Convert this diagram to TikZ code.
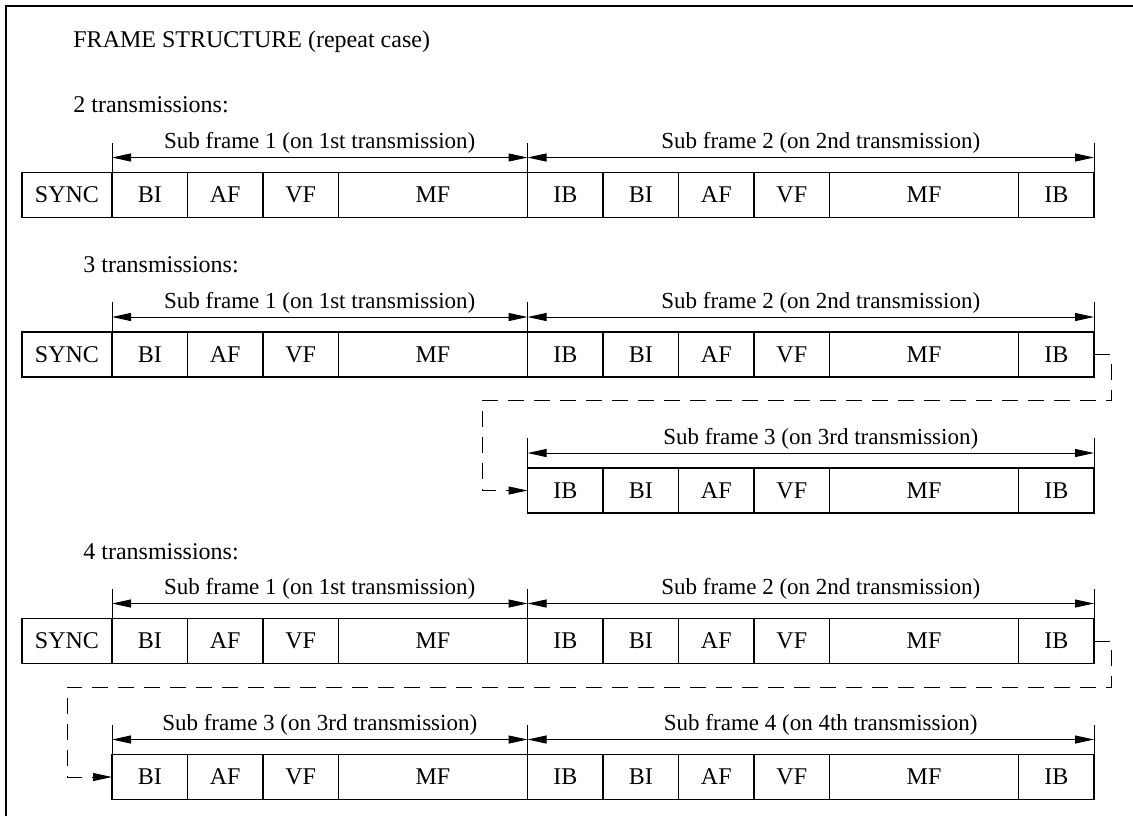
\documentclass[tikz,border=0pt]{standalone}
\usepackage{fontspec}
\setmainfont{Liberation Serif}
\usetikzlibrary{arrows.meta,positioning}

\begin{document}
\begin{tikzpicture}[
  x=0.5pt, y=-0.5pt,
  font=\fontsize{12}{14}\selectfont,
  >={Triangle[length=9.5pt,width=4pt]},
  cell/.style={draw,line width=0.8pt,minimum width=37.75pt,minimum height=22.5pt,inner sep=0pt,outer sep=0pt},
  widecell/.style={cell,minimum width=94.5pt},
  synccell/.style={cell,minimum width=45pt},
  dimline/.style={line width=0.5pt},
  dimarrow/.style={<->,line width=0.5pt},
  sublabel/.style={anchor=base,yshift=4.5pt,font=\fontsize{11.5}{14}\selectfont},
  rowtitle/.style={anchor=base west,inner sep=0pt},
  backlink/.style={->,dash pattern=on 8pt off 5pt,line width=0.5pt}
]
\useasboundingbox (0,0) rectangle (1133,816);
\draw[line width=1pt] (6,816) -- (6,6) -- (1133,6);

\node[rowtitle] (title) at (73,47) {FRAME STRUCTURE (repeat case)};
\node[rowtitle] (two) at (73,112) {2 transmissions:};
\node[rowtitle] (three) at (83,272) {3 transmissions:};
\node[rowtitle] (four) at (83,559) {4 transmissions:};

% full rows with SYNC
\foreach \r/\y in {a/195,b/354.5,d/641}{
  \coordinate (\r0) at (22,\y);
  \foreach \txt/\kind [count=\k] in {SYNC/synccell,BI/cell,AF/cell,VF/cell,MF/widecell,IB/cell,BI/cell,AF/cell,VF/cell,MF/widecell,IB/cell}{
    \pgfmathtruncatemacro\prev{\k-1}
    \node[\kind,right=0pt of \r\prev] (\r\k) {\txt};
  }
}
% sub frame 3, three transmissions
\coordinate (c0) at (527.5,490.5);
\foreach \txt/\kind [count=\k] in {IB/cell,BI/cell,AF/cell,VF/cell,MF/widecell,IB/cell}{
  \pgfmathtruncatemacro\prev{\k-1}
  \node[\kind,right=0pt of c\prev] (c\k) {\txt};
}
% sub frames 3 and 4, four transmissions
\coordinate (e0) at (112,777);
\foreach \txt/\kind [count=\k] in {BI/cell,AF/cell,VF/cell,MF/widecell,IB/cell,BI/cell,AF/cell,VF/cell,MF/widecell,IB/cell}{
  \pgfmathtruncatemacro\prev{\k-1}
  \node[\kind,right=0pt of e\prev] (e\k) {\txt};
}

% dimension arrows
\foreach \r in {a,b,d}{
  \draw[dimline] (\r2.north west) -- ++(0,-30);
  \draw[dimline] (\r6.north west) -- ++(0,-30);
  \draw[dimline] (\r11.north east) -- ++(0,-30);
  \draw[dimarrow] ([yshift=7.5pt]\r2.north west) -- node[sublabel] {Sub frame 1 (on 1st transmission)} ([yshift=7.5pt]\r6.north west);
  \draw[dimarrow] ([yshift=7.5pt]\r6.north west) -- node[sublabel,xshift=5pt] {Sub frame 2 (on 2nd transmission)} ([yshift=7.5pt]\r11.north east);
}
\draw[dimline] (c1.north west) -- ++(0,-30);
\draw[dimline] (c6.north east) -- ++(0,-30);
\draw[dimarrow] ([yshift=7.5pt]c1.north west) -- node[sublabel,xshift=5pt] {Sub frame 3 (on 3rd transmission)} ([yshift=7.5pt]c6.north east);
\draw[dimline] (e1.north west) -- ++(0,-30);
\draw[dimline] (e5.north west) -- ++(0,-30);
\draw[dimline] (e10.north east) -- ++(0,-30);
\draw[dimarrow] ([yshift=7.5pt]e1.north west) -- node[sublabel] {Sub frame 3 (on 3rd transmission)} ([yshift=7.5pt]e5.north west);
\draw[dimarrow] ([yshift=7.5pt]e5.north west) -- node[sublabel,xshift=5pt] {Sub frame 4 (on 4th transmission)} ([yshift=7.5pt]e10.north east);

% dashed continuation links
\coordinate (bturn) at (482,400);
\draw[backlink] (b11.east) -- ++(17,0) |- (bturn) |- (c1.west);
\coordinate (dturn) at (67,687);
\draw[backlink] (d11.east) -- ++(17,0) |- (dturn) |- (e1.west);
\end{tikzpicture}
\end{document}
